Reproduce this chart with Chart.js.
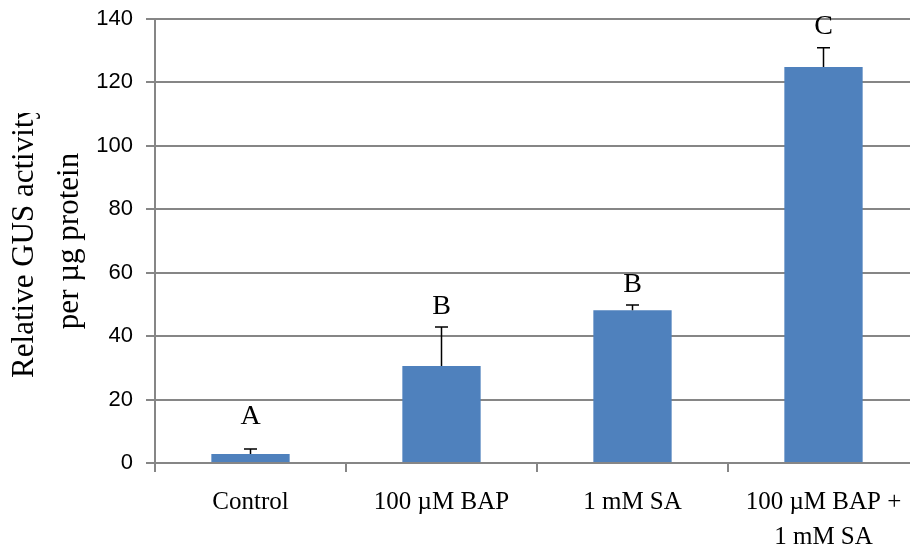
<!DOCTYPE html>
<html>
<head>
<meta charset="utf-8">
<script src="https://cdn.jsdelivr.net/npm/chart.js@4.4.1/dist/chart.umd.min.js"></script>
<style>
    html, body { margin: 0; padding: 0; background: #fff; overflow: hidden; }
    #wrap { width: 930px; height: 546px; }
</style>
</head>
<body>
<div id="wrap"><canvas id="gus_chart"></canvas></div>
<script>
// data
const categories = ['Control', '100 µM BAP', '1 mM SA', ['100 µM BAP +', '1 mM SA']];
const gus_activity = [2.8, 30.6, 48.2, 124.9];
const error_up = [1.6, 12.3, 1.6, 6.0];
const sig_letters = ['A', 'B', 'B', 'C'];
const letter_height = [14.5, 49.2, 56.1, 137.5];
const y_ticks = [0, 20, 40, 60, 80, 100, 120, 140];

const gridColor = '#868686';

// error bars + significance letters
const errorBarPlugin = {
    id: 'errorBars',
    afterDatasetsDraw(chart) {
        const ctx = chart.ctx;
        const x = chart.scales.x;
        const y = chart.scales.y;
        ctx.save();
        ctx.strokeStyle = '#000';
        ctx.lineWidth = 1.5;
        gus_activity.forEach((v, i) => {
            let px = x.getPixelForValue(i);
            let y0 = y.getPixelForValue(v);
            let y1 = y.getPixelForValue(v + error_up[i]);
            ctx.beginPath();
            ctx.moveTo(px, y0);
            ctx.lineTo(px, y1);
            ctx.moveTo(px - 6.5, y1);
            ctx.lineTo(px + 6.5, y1);
            ctx.stroke();
        });
        ctx.fillStyle = '#000';
        ctx.font = '28px "Liberation Serif"';
        ctx.textAlign = 'center';
        ctx.textBaseline = 'middle';
        sig_letters.forEach((t, i) => {
            ctx.fillText(t, x.getPixelForValue(i), y.getPixelForValue(letter_height[i]));
        });
        ctx.restore();
    },
    afterDraw(chart) {
        // the axis title is cut off at the top like in the original
        const ctx = chart.ctx;
        ctx.save();
        ctx.fillStyle = '#fff';
        ctx.fillRect(0, 0, 48, 113);
        ctx.restore();
    }
};

new Chart(document.getElementById('gus_chart'), {
    type: 'bar',
    data: {
        labels: categories,
        datasets: [{
            data: gus_activity,
            backgroundColor: '#4F81BD',
            borderWidth: 0,
            barPercentage: 0.41,
            categoryPercentage: 1.0
        }]
    },
    options: {
        responsive: true,
        maintainAspectRatio: false,
        animation: false,
        layout: { padding: { top: 19, right: 11, bottom: 0, left: 0 } },
        plugins: {
            legend: { display: false },
            tooltip: { enabled: false }
        },
        scales: {
            x: {
                grid: {
                    offset: true,
                    drawOnChartArea: false,
                    color: gridColor,
                    lineWidth: 2,
                    tickLength: 9
                },
                border: { color: gridColor, width: 2 },
                ticks: {
                    color: '#000',
                    padding: 13,
                    font: { family: 'Liberation Serif', size: 25, lineHeight: 1.4 },
                    maxRotation: 0,
                    autoSkip: false
                },
                afterFit: (s) => { s.height = 83; s.paddingLeft = 0; s.paddingRight = 0; }
            },
            y: {
                min: 0,
                max: 140,
                afterBuildTicks: (s) => { s.ticks = y_ticks.map(v => ({ value: v })); },
                grid: { color: gridColor, lineWidth: 2, tickLength: 9 },
                border: { color: gridColor, width: 2 },
                ticks: {
                    color: '#000',
                    padding: 13,
                    font: { family: 'Liberation Sans', size: 22 }
                },
                title: {
                    display: true,
                    text: ['Relative GUS activity', 'per µg protein'],
                    color: '#000',
                    padding: { top: 2, bottom: 0 },
                    font: { family: 'Liberation Serif', size: 31, lineHeight: 1.47 }
                },
                afterFit: (s) => { s.width = 155; s.paddingTop = 0; s.paddingBottom = 0; }
            }
        }
    },
    plugins: [errorBarPlugin]
});
</script>
</body>
</html>
